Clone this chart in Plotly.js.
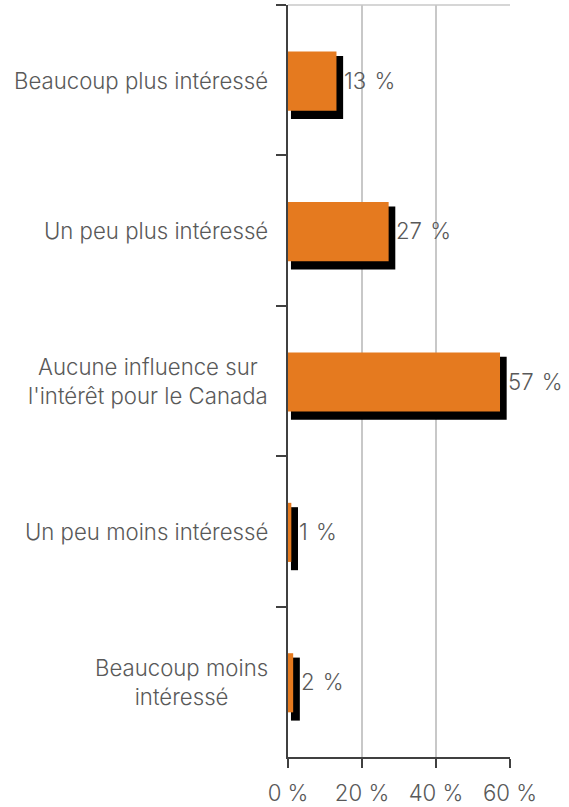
<!DOCTYPE html>
<html>
<head>
<meta charset="utf-8">
<script src="https://cdn.plot.ly/plotly-3.0.1.min.js"></script>
<style>
html,body{margin:0;padding:0;background:#fff;}
#chart{width:569px;height:807px;}
</style>
</head>
<body>
<div id="chart"></div>
<script>
// Data
const categories = [
  "Beaucoup plus intéressé",
  "Un peu plus intéressé",
  "Aucune influence sur<br>l'intérêt pour le Canada",
  "Un peu moins intéressé",
  "Beaucoup moins<br>intéressé"
];
const values = [13.1, 27.2, 57.3, 0.9, 1.4];
const valueLabels = ["13 %", "27 %", "57 %", "1 %", "2 %"];
const xTickVals = [0, 20, 40, 60];
const xTickText = ["0 %", "20 %", "40 %", "60 %"];

// visual shadow offsets (style, not data)
const SHADOW_BASE = 0.8;
const SHADOW_EXTRA = 1.8;

const FONT = "Inter, 'Liberation Sans', Arial, sans-serif";
const TXT = "#595959";
const FS = 22.2;

const shadow = {
  type: "bar", orientation: "h",
  y: categories,
  x: values.map(v => v + SHADOW_EXTRA - SHADOW_BASE),
  base: values.map(() => SHADOW_BASE),
  width: 0.419, offset: -0.161,
  marker: {color: "#000000", line: {width: 0}},
  hoverinfo: "skip", showlegend: false
};
const bars = {
  type: "bar", orientation: "h",
  y: categories, x: values,
  width: 0.393, offset: -0.19,
  marker: {color: "#E57A1F", line: {width: 0}},
  showlegend: false
};

const annotations = [];
categories.forEach((c, i) => {
  annotations.push({
    xref: "paper", yref: "y", x: 0, y: c,
    xanchor: "right", yanchor: "middle", xshift: -18,
    text: c, align: "center", showarrow: false,
    font: {family: FONT, size: FS, color: TXT, weight: 300}
  });
  annotations.push({
    xref: "x", yref: "y", x: values[i] + SHADOW_EXTRA, y: c,
    xanchor: "left", yanchor: "middle", xshift: -1, yshift: 0,
    text: valueLabels[i].replace(" ", " \u200A"), showarrow: false,
    font: {family: FONT, size: FS, color: TXT, weight: 300}
  });
});

const layout = {
  width: 569, height: 807,
  margin: {l: 288, r: 59, t: 5, b: 50, pad: 0},
  paper_bgcolor: "#fff", plot_bgcolor: "#fff",
  barmode: "overlay",
  showlegend: false,
  font: {family: FONT, size: FS, color: TXT, weight: 300},
  xaxis: {
    range: [0, 60], tickvals: xTickVals, ticktext: xTickText,
    showgrid: true, gridcolor: "#c8c8c8", gridwidth: 1.5,
    zeroline: false, showline: true, linecolor: "#404040", linewidth: 2,
    ticks: "outside", ticklen: 9, tickwidth: 2, tickcolor: "#404040",
    ticklabelstandoff: 6,
    tickfont: {family: FONT, size: FS, color: TXT, weight: 300},
    fixedrange: true
  },
  yaxis: {
    type: "category", categoryorder: "array", categoryarray: categories,
    range: [4.5, -0.5],
    tickson: "boundaries", ticks: "outside", ticklen: 10, tickwidth: 2, tickcolor: "#404040",
    showticklabels: false, showgrid: false, zeroline: false,
    showline: true, linecolor: "#404040", linewidth: 2,
    fixedrange: true
  },
  shapes: [{
    type: "line", xref: "paper", yref: "paper", x0: 0, x1: 1, y0: 1, y1: 1,
    line: {color: "#c8c8c8", width: 1.5}
  }],
  annotations: annotations
};

Plotly.newPlot("chart", [shadow, bars], layout, {displayModeBar: false, staticPlot: true});
</script>
</body>
</html>
